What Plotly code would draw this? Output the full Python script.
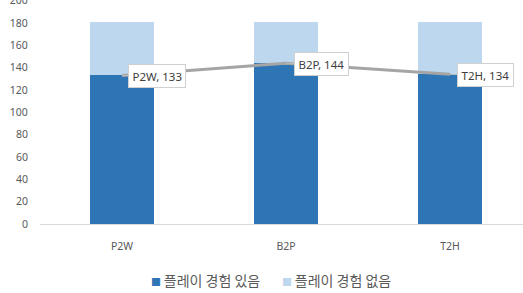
import plotly.graph_objects as go

categories = ["P2W", "B2P", "T2H"]
played = [133, 144, 134]
not_played = [48, 37, 47]
line_values = [133, 144, 134]
y_ticks = list(range(0, 201, 20))
series_names = ["플레이 경험 있음", "플레이 경험 없음"]
series_colors = ["#2E75B6", "#BDD7EE"]

FONT = "Noto Sans, Noto Sans CJK KR, sans-serif"

fig = go.Figure()
fig.add_trace(go.Bar(x=categories, y=played, name=series_names[0],
                     marker=dict(color=series_colors[0], line=dict(width=0))))
fig.add_trace(go.Bar(x=categories, y=not_played, name=series_names[1],
                     marker=dict(color=series_colors[1], line=dict(width=0))))
fig.add_trace(go.Scatter(x=categories, y=line_values, mode="lines",
                         line=dict(color="#A5A5A5", width=3), showlegend=False,
                         hoverinfo="skip"))

for c, v in zip(categories, line_values):
    fig.add_annotation(x=c, y=v, xref="x", yref="y", text=f"{c}, {v}",
                       showarrow=True, arrowhead=0, arrowwidth=1, arrowcolor="#BFBFBF",
                       ax=35, ay=1, bgcolor="white", bordercolor="#D0D0D0",
                       borderwidth=1, borderpad=3.5,
                       font=dict(family=FONT, size=11.5, color="#404040"))

# legend drawn as annotations to match the reference's compact layout
legend_x = [0.225, 0.497]
for name, col, lx in zip(series_names, series_colors, legend_x):
    fig.add_annotation(x=lx, y=-0.25, xref="paper", yref="paper", xanchor="left",
                       yanchor="middle", showarrow=False,
                       text=f'<span style="color:{col};font-size:10px">■</span>\u2009{name}',
                       font=dict(family="Noto Sans CJK KR", size=14, color="#595959"))

fig.update_layout(
    width=523, height=293,
    margin=dict(l=40, r=0, t=0, b=69),
    barmode="stack", bargap=0.61,
    plot_bgcolor="white", paper_bgcolor="white",
    showlegend=False,
    font=dict(family=FONT, size=10, color="#595959"),
    xaxis=dict(type="category", range=[-0.5, 2.445], showline=True, linecolor="#D9D9D9",
               linewidth=1, ticks="outside", ticklen=12, tickcolor="rgba(0,0,0,0)",
               automargin=False, tickfont=dict(size=10.5, color="#595959")),
    yaxis=dict(range=[0, 200.6], tickvals=y_ticks, showgrid=False, zeroline=False,
               showline=False, ticks="outside", ticklen=9, tickcolor="rgba(0,0,0,0)",
               ticklabeloverflow="allow", automargin=False,
               tickfont=dict(size=10.5, color="#595959")),
)
fig.write_html("out.html")
